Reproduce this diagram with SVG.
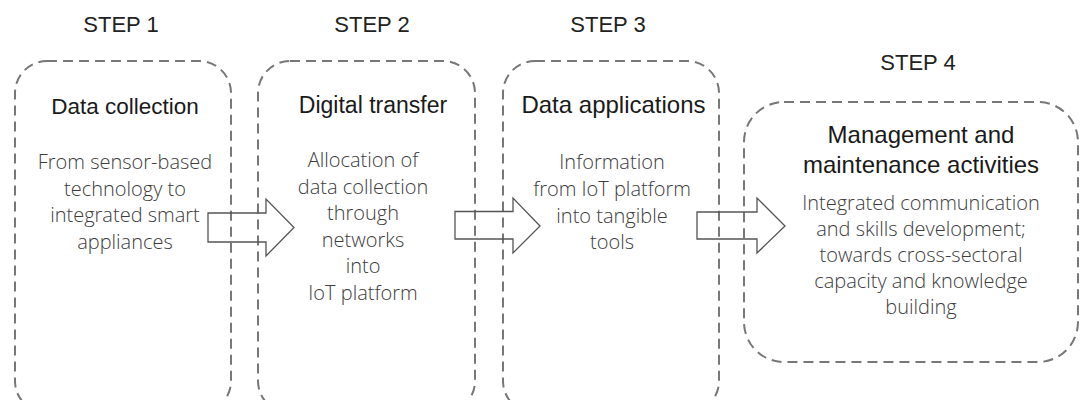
<svg xmlns="http://www.w3.org/2000/svg" width="1081" height="400" viewBox="0 0 1081 400">
<style>
.box{fill:none;stroke:#777;stroke-width:2;stroke-dasharray:10 6}
.arrow{fill:none;stroke:#555;stroke-width:1.3;stroke-linejoin:miter}
.step{font-family:"Liberation Sans",Arial,sans-serif;font-size:22px;fill:#222;text-anchor:middle}
.title{font-family:"Liberation Sans",Arial,sans-serif;font-size:23px;fill:#1a1a1a;text-anchor:middle}
.body{font-family:"Open Sans","Noto Sans",sans-serif;font-weight:300;font-size:20px;fill:#3c3c3c;text-anchor:middle}
</style>
<rect width="1081" height="400" fill="#ffffff"/>
<g id="step1">
<text class="step" x="121" y="31.5">STEP 1</text>
<rect class="box" x="15" y="61" width="216" height="352" rx="32"/>
<text class="title" x="125" y="113.5" style="font-size:22.5px">Data collection</text>
<text class="body" x="125" y="169">From sensor-based</text>
<text class="body" x="125" y="195.5">technology to</text>
<text class="body" x="125" y="222">integrated smart</text>
<text class="body" x="125" y="248.5">appliances</text>
</g>
<g id="step2">
<text class="step" x="372" y="32">STEP 2</text>
<rect class="box" x="258" y="61" width="217" height="352" rx="32"/>
<text class="title" x="373" y="113">Digital transfer</text>
<text class="body" x="363" y="167">Allocation of</text>
<text class="body" x="363" y="193.5">data collection</text>
<text class="body" x="363" y="220">through</text>
<text class="body" x="363" y="246.5">networks</text>
<text class="body" x="363" y="273">into</text>
<text class="body" x="363" y="299.5">IoT platform</text>
</g>
<g id="step3">
<text class="step" x="608" y="32">STEP 3</text>
<rect class="box" x="503" y="61" width="216" height="352" rx="32"/>
<text class="title" x="613.5" y="113" style="font-size:24px">Data applications</text>
<text class="body" x="612" y="169">Information</text>
<text class="body" x="612" y="196">from IoT platform</text>
<text class="body" x="612" y="222.5">into tangible</text>
<text class="body" x="612" y="249">tools</text>
</g>
<g id="step4">
<text class="step" x="918" y="70">STEP 4</text>
<rect class="box" x="744" y="102" width="334" height="260" rx="40"/>
<text class="title" x="921" y="143" style="font-size:24px">Management and</text>
<text class="title" x="921" y="172.5" style="font-size:24px">maintenance activities</text>
<text class="body" x="921" y="210">Integrated communication</text>
<text class="body" x="921" y="236">and skills development;</text>
<text class="body" x="921" y="262">towards cross-sectoral</text>
<text class="body" x="921" y="288">capacity and knowledge</text>
<text class="body" x="921" y="314">building</text>
</g>
<g id="connectors">
<polygon class="arrow" points="208,213 266,213 266,199 294,227.5 266,256 266,242 208,242"/>
<polygon class="arrow" points="455,211.5 513,211.5 513,198 540,226 513,253 513,239 455,239"/>
<polygon class="arrow" points="697,212 757,212 757,198 785,226 757,253 757,239 697,239"/>
</g>
</svg>
